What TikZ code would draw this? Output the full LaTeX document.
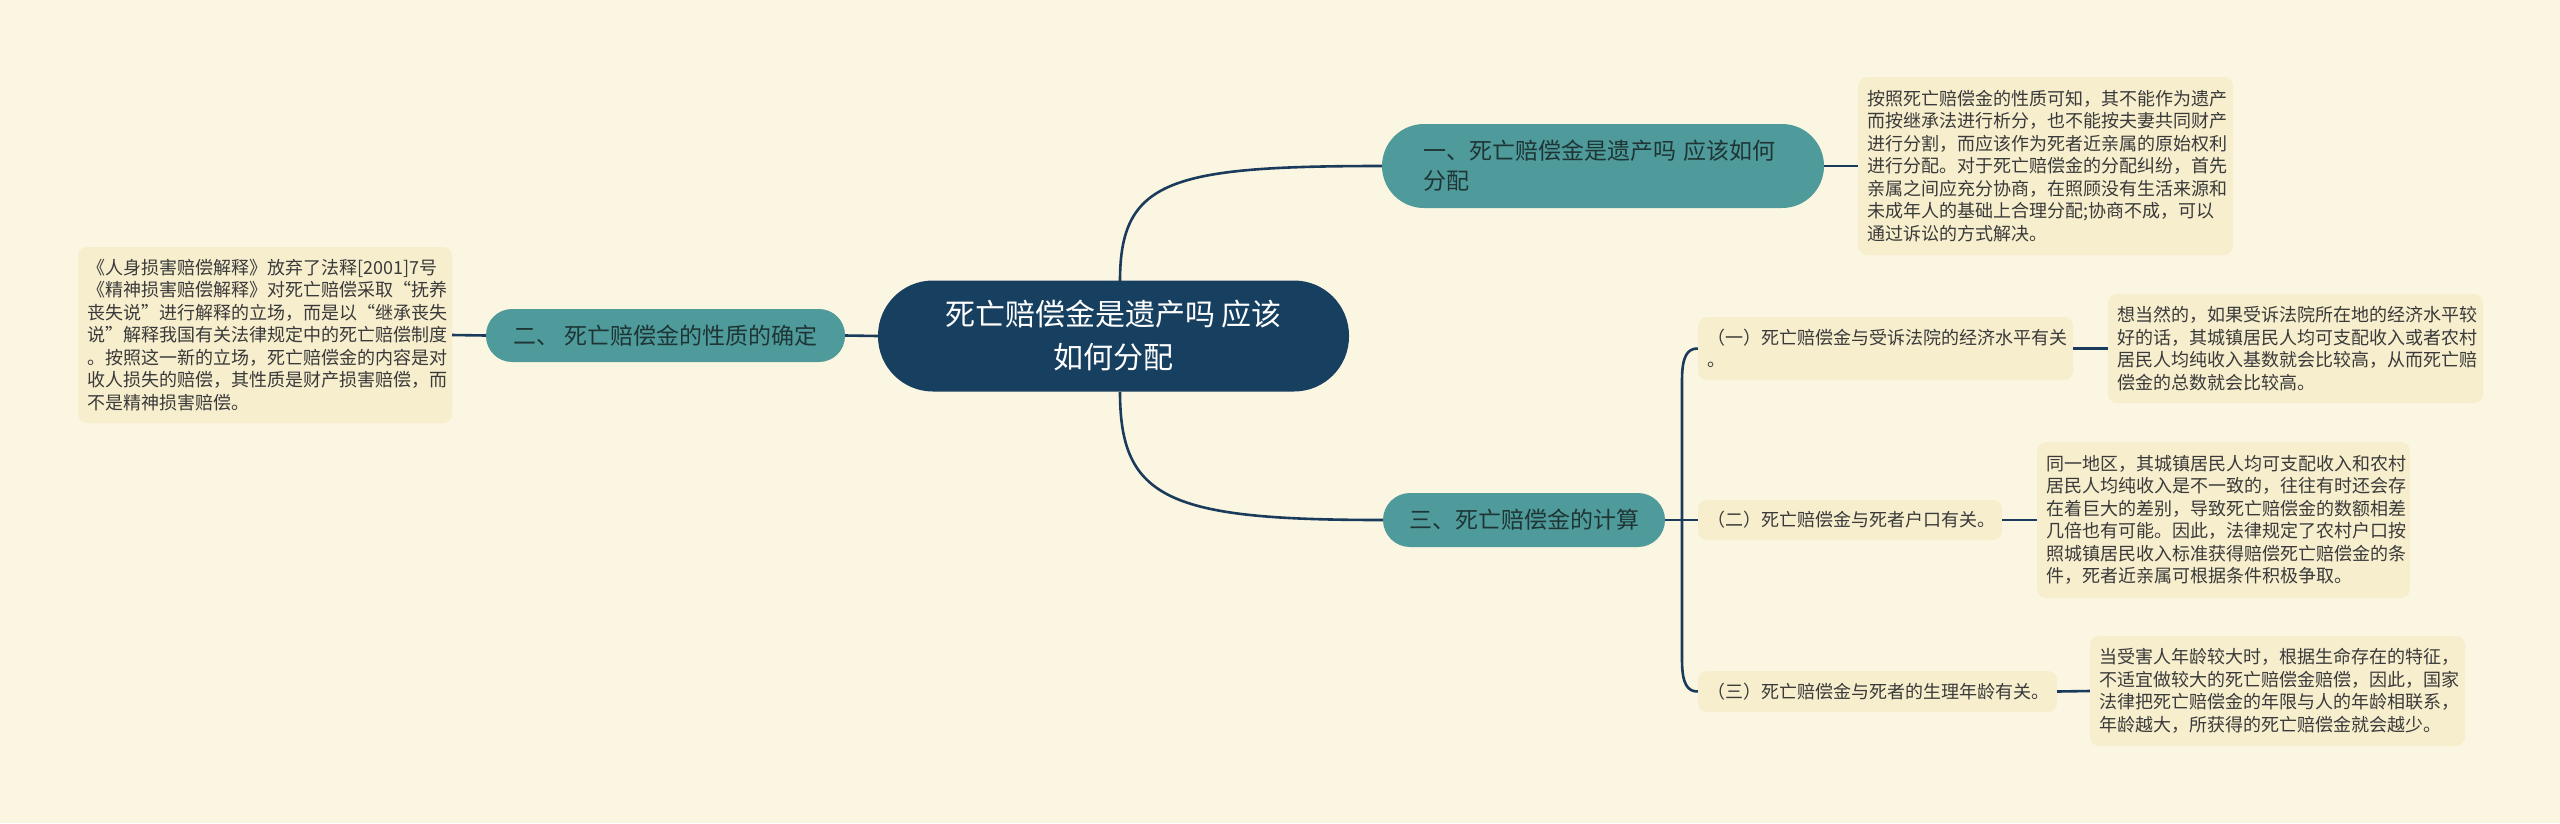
\documentclass[tikz,border=0pt]{standalone}
\usepackage{fontspec}
\setmainfont{Noto Sans CJK SC}
\definecolor{bgc}{HTML}{FBF6E2}
\definecolor{boxc}{HTML}{F6EECD}
\definecolor{tealc}{HTML}{4F9B9B}
\definecolor{navyc}{HTML}{173F5F}
\definecolor{linec}{HTML}{1A3B5C}
\definecolor{tealtext}{HTML}{1F3535}
\definecolor{boxtext}{HTML}{3A3A3A}
\tikzset{
  conn/.style={draw=linec, line width=2.6pt},
  rootnode/.style={fill=navyc, draw=none, rounded corners=55pt, minimum width=471pt, minimum height=111pt, text=white, align=center, inner sep=0pt, font=\fontsize{30}{43}\selectfont},
  branchnode/.style={fill=tealc, draw=none, text=tealtext, inner sep=0pt, font=\fontsize{23}{30}\selectfont},
  infobox/.style={fill=boxc, draw=none, rounded corners=9pt, text=boxtext, align=left, inner xsep=9pt, inner ysep=0pt, font=\fontsize{18}{22.5}\selectfont},
}
\begin{document}
\begin{tikzpicture}[x=1pt,y=-1pt]
\fill[bgc] (0,0) rectangle (2560,823);
\useasboundingbox (0,0) rectangle (2560,823);

\coordinate (rootTop) at (1120,281);
\coordinate (rootBot) at (1120,392);

% nodes
\node[rootnode] (root) at (1113.5,336) {死亡赔偿金是遗产吗 应该\\如何分配};

\node[branchnode, rounded corners=42pt, minimum height=84pt, text width=360pt, inner xsep=41pt, align=left] (b1) at (1603,166) {一、死亡赔偿金是遗产吗 应该如何\\分配};
\node[branchnode, rounded corners=26pt, minimum height=53pt, minimum width=359pt, align=center] (b2) at (665.5,335.5) {二、 死亡赔偿金的性质的确定};
\node[branchnode, rounded corners=27pt, minimum height=54pt, minimum width=282pt, align=center] (b3) at (1524,520) {三、死亡赔偿金的计算};

\node[infobox, text width=357pt, minimum height=178pt] (t1) at (2045.5,166) {按照死亡赔偿金的性质可知，其不能作为遗产\\而按继承法进行析分，也不能按夫妻共同财产\\进行分割，而应该作为死者近亲属的原始权利\\进行分配。对于死亡赔偿金的分配纠纷，首先\\亲属之间应充分协商，在照顾没有生活来源和\\未成年人的基础上合理分配;协商不成，可以\\通过诉讼的方式解决。};

\node[infobox, text width=356pt, minimum height=176pt] (t2) at (265,335) {\mbox{《人身损害赔偿解释》放弃了法释[2001]7号}\\\mbox{《精神损害赔偿解释》对死亡赔偿采取“抚养}\\\mbox{丧失说”进行解释的立场，而是以“继承丧失}\\\mbox{说”解释我国有关法律规定中的死亡赔偿制度}\\\mbox{。按照这一新的立场，死亡赔偿金的内容是对}\\\mbox{收人损失的赔偿，其性质是财产损害赔偿，而}\\\mbox{不是精神损害赔偿。}};

\node[infobox, text width=357pt, minimum height=63pt] (s1) at (1885.5,348.5) {（一）死亡赔偿金与受诉法院的经济水平有关\\。};
\node[infobox, text width=286pt, minimum height=40pt] (s2) at (1850,520) {（二）死亡赔偿金与死者户口有关。};
\node[infobox, text width=341pt, minimum height=41pt] (s3) at (1877.5,691.5) {（三）死亡赔偿金与死者的生理年龄有关。};

\node[infobox, text width=357pt, minimum height=109pt] (t3) at (2295.5,348.5) {想当然的，如果受诉法院所在地的经济水平较\\好的话，其城镇居民人均可支配收入或者农村\\居民人均纯收入基数就会比较高，从而死亡赔\\偿金的总数就会比较高。};
\node[infobox, text width=355pt, minimum height=156pt] (t4) at (2223.5,520) {同一地区，其城镇居民人均可支配收入和农村\\居民人均纯收入是不一致的，往往有时还会存\\在着巨大的差别，导致死亡赔偿金的数额相差\\几倍也有可能。因此，法律规定了农村户口按\\照城镇居民收入标准获得赔偿死亡赔偿金的条\\件，死者近亲属可根据条件积极争取。};
\node[infobox, text width=357pt, minimum height=110pt] (t5) at (2277.5,691) {当受害人年龄较大时，根据生命存在的特征，\\不适宜做较大的死亡赔偿金赔偿，因此，国家\\法律把死亡赔偿金的年限与人的年龄相联系，\\年龄越大，所获得的死亡赔偿金就会越少。};

% connectors
\draw[conn] (rootTop) .. controls (1120,180) and (1170,166) .. (b1.west);
\draw[conn] (rootBot) .. controls (1120,500) and (1170,520) .. (b3.west);
\draw[conn] (root.west) -- (b2.east);
\draw[conn] (b2.west) -- (t2.east);
\draw[conn] (b1.east) -- (t1.west);

\coordinate (brk) at (1682,520);
\draw[conn] (b3.east) -- (brk);
\draw[conn] (s1.west) .. controls (1688,348.5) and (1682,355) .. (1682,380) -- (1682,660) .. controls (1682,685) and (1688,691.5) .. (s3.west);
\draw[conn] (brk) -- (s2.west);
\draw[conn] (s1.east) -- (t3.west);
\draw[conn] (s2.east) -- (t4.west);
\draw[conn] (s3.east) -- (t5.west);
\end{tikzpicture}
\end{document}
